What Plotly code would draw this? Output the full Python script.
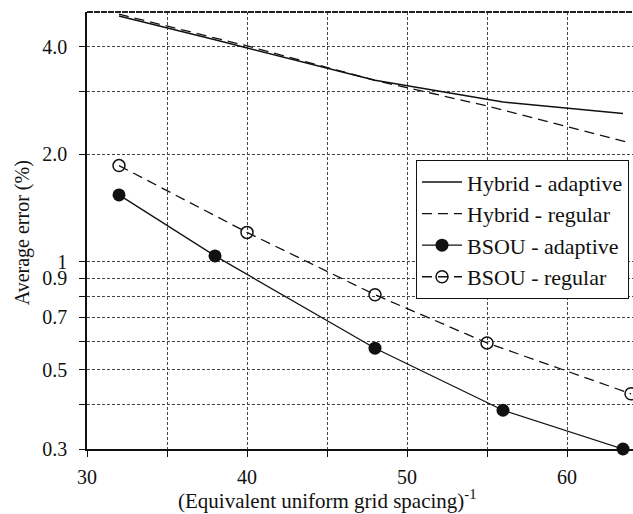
import numpy as np
import plotly.graph_objects as go

# ---- data ----
hyb_ad_x = [32, 38, 48, 56, 63.5]
hyb_ad_y = [4.87, 4.18, 3.22, 2.80, 2.60]
hyb_re_x = [32, 40, 48, 55, 64]
hyb_re_y = [4.93, 4.02, 3.22, 2.73, 2.15]
bsou_ad_x = [32, 38, 48, 56, 63.5]
bsou_ad_y = [1.54, 1.04, 0.574, 0.385, 0.30]
bsou_re_x = [32, 40, 48, 55, 64]
bsou_re_y = [1.86, 1.21, 0.81, 0.594, 0.428]

x_tickvals = [30, 40, 50, 60]
x_ticktext = ["30", "40", "50", "60"]
x_minorvals = [35, 45, 55]
y_tickvals = [0.3, 0.5, 0.7, 0.9, 1, 2, 4]
y_ticktext = ["0.3", "0.5", "0.7", "0.9", "1", "2.0", "4.0"]
y_minorvals = [0.4, 0.6, 0.8, 3]

FONT = "Liberation Serif"
INK = "#111111"
GRID = "#444444"

fig = go.Figure()
fig.add_trace(go.Scatter(x=hyb_ad_x, y=hyb_ad_y, mode="lines", name="Hybrid - adaptive",
                         line=dict(color=INK, width=1.5), cliponaxis=False))
fig.add_trace(go.Scatter(x=hyb_re_x, y=hyb_re_y, mode="lines", name="Hybrid - regular",
                         line=dict(color=INK, width=1.3, dash="10px,6px"), cliponaxis=False))
fig.add_trace(go.Scatter(x=bsou_ad_x, y=bsou_ad_y, mode="lines+markers", name="BSOU - adaptive",
                         line=dict(color=INK, width=1.3),
                         marker=dict(symbol="circle", size=13, color=INK), cliponaxis=False))
fig.add_trace(go.Scatter(x=bsou_re_x, y=bsou_re_y, mode="lines+markers", name="BSOU - regular",
                         line=dict(color=INK, width=1.3, dash="10px,6px"),
                         marker=dict(symbol="circle-open", size=12, color=INK,
                                     line=dict(width=1.5, color=INK)), cliponaxis=False))

grid_common = dict(showgrid=True, gridcolor=GRID, griddash="3px,2px", gridwidth=1)

fig.update_layout(
    width=633, height=514,
    margin=dict(l=87, r=0, t=12, b=65),
    paper_bgcolor="white", plot_bgcolor="white",
    font=dict(family=FONT, size=20, color=INK),
    showlegend=True,
    legend=dict(x=0.9927, xanchor="right", y=0.661, yanchor="top",
                bgcolor="white", bordercolor=INK, borderwidth=1,
                font=dict(family=FONT, size=22, color=INK),
                tracegroupgap=0, itemwidth=40),
    xaxis=dict(range=[30, 64.125], tickmode="array", tickvals=x_tickvals, ticktext=x_ticktext,
               **grid_common,
               minor=dict(tickmode="array", tickvals=x_minorvals, ticks="outside", ticklen=6,
                          tickcolor=INK, tickwidth=1, **grid_common),
               showline=True, linecolor=INK, linewidth=1.5,
               ticks="outside", ticklen=6, tickcolor=INK, tickwidth=1,
               ticklabelstandoff=3,
               tickfont=dict(family=FONT, size=20, color=INK), zeroline=False),
    yaxis=dict(type="log", range=[np.log10(0.3), np.log10(5)],
               tickmode="array", tickvals=y_tickvals, ticktext=y_ticktext,
               **grid_common,
               minor=dict(tickmode="array", tickvals=y_minorvals, ticks="outside", ticklen=6,
                          tickcolor=INK, tickwidth=1, **grid_common),
               showline=True, linecolor=INK, linewidth=1.5,
               ticks="outside", ticklen=6, tickcolor=INK, tickwidth=1,
               ticklabelstandoff=8,
               tickfont=dict(family=FONT, size=20, color=INK), zeroline=False),
    shapes=[dict(type="line", xref="paper", yref="paper", x0=0, x1=1, y0=1, y1=1,
                 line=dict(color="#222222", width=2, dash="6px,1px"))],
    annotations=[
        dict(text="(Equivalent uniform grid spacing)<sup>-1</sup>", xref="paper", yref="paper",
             x=0.4396, y=-0.08, xanchor="center", yanchor="top", showarrow=False,
             font=dict(family=FONT, size=21, color=INK)),
        dict(text="Average error (%)", xref="paper", yref="paper", textangle=-90,
             x=-0.118, y=0.495, xanchor="center", yanchor="middle", showarrow=False,
             font=dict(family=FONT, size=20, color=INK)),
    ],
)

fig.write_html("out.html")
